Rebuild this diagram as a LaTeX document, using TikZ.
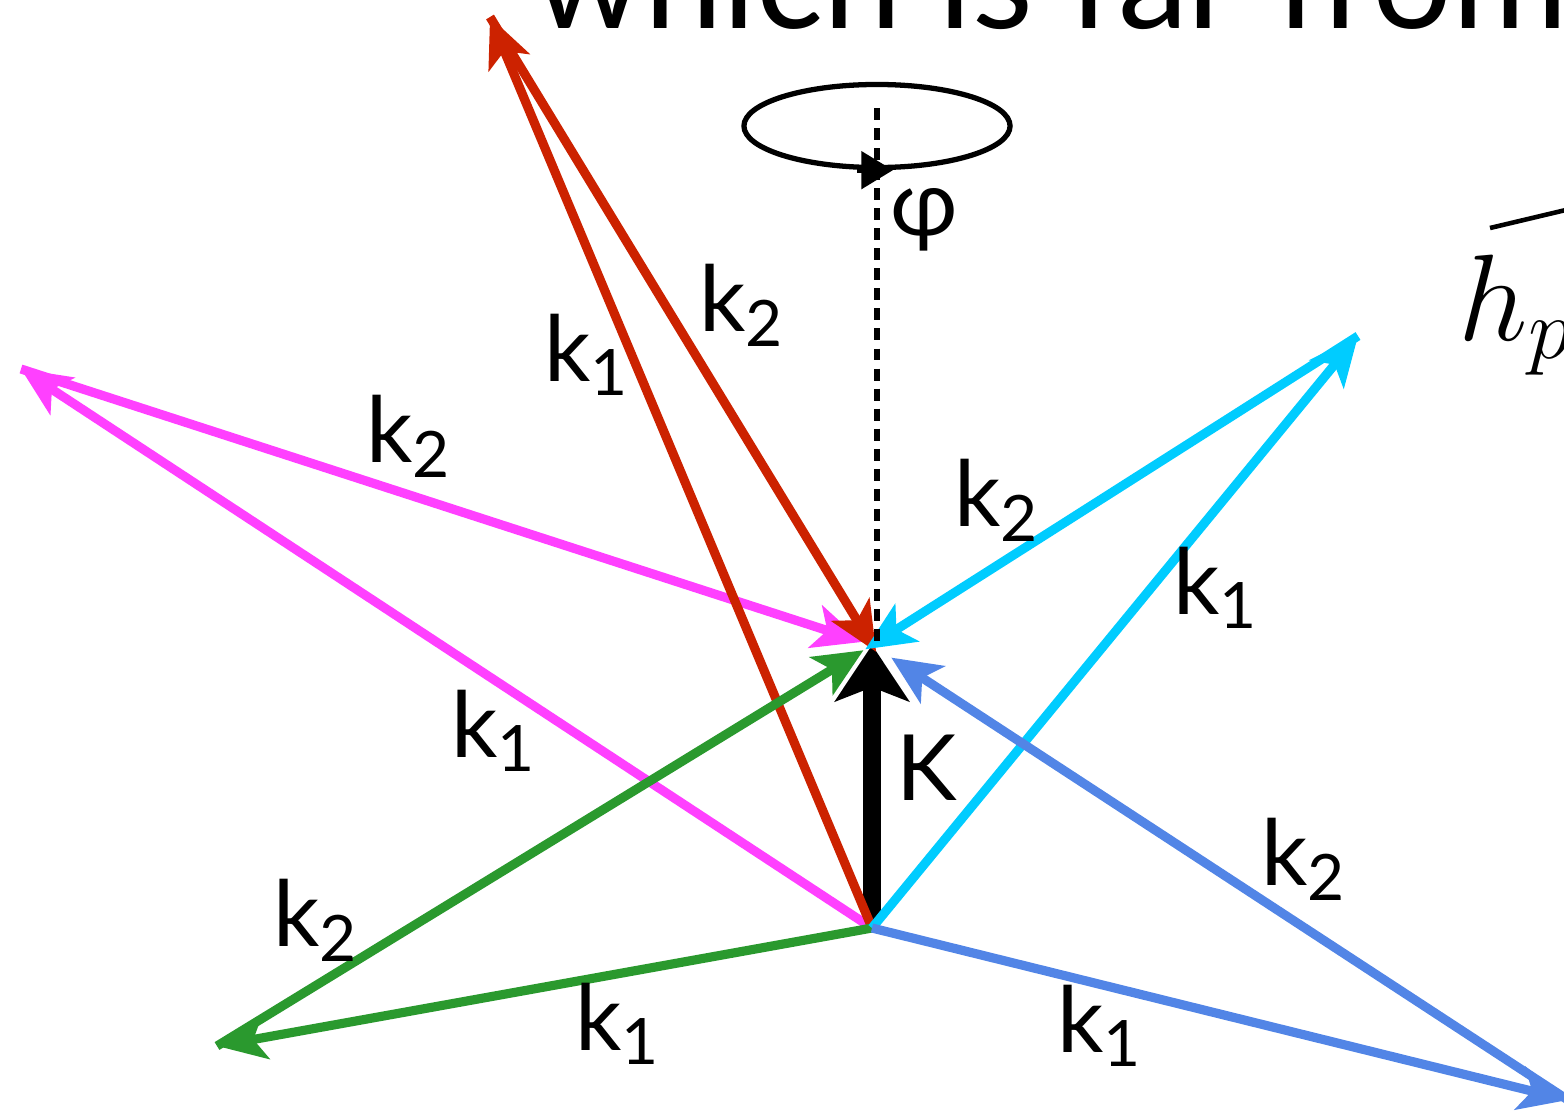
\RequirePackage{fix-cm}
\documentclass[tikz,border=0pt]{standalone}
\usepackage{fontspec}
\setsansfont{Lato}
\definecolor{kred}{RGB}{204,34,0}
\definecolor{kmag}{RGB}{255,64,255}
\definecolor{kcyan}{RGB}{0,204,255}
\definecolor{kgreen}{RGB}{42,153,46}
\definecolor{kblue}{RGB}{82,133,230}
\usepackage{tikz}
\usetikzlibrary{arrows.meta,shapes.geometric,calc}
\newcommand{\klab}[1]{k\textsubscript{#1}}

\begin{document}
\begin{tikzpicture}[x=0.01cm,y=-0.01cm,
  kvec/.style={line width=2.6pt,-{Stealth[length=14pt,width=12.5pt,inset=3.5pt]}},
  bigK/.style={line width=5pt,-{Stealth[length=16pt,width=21pt,inset=4pt]}},
  lab/.style={font=\sffamily\fontsize{26}{30}\selectfont,inner sep=0pt}
]
  \path[use as bounding box] (0,0) rectangle (1564,1112);
  \clip (0,0) rectangle (1564,1112);

  % slide text, cut off by the frame
  \node[anchor=base west,inner sep=0pt,font=\sffamily\fontsize{40}{48}\selectfont] (head) at (533,28) {which is far from};
  \node[anchor=base west,inner sep=0pt,font=\fontsize{35}{40}\selectfont] (hp) at (1458,340) {$h_p$};
  \draw[line width=1.3pt] (1490,228) -- (1570,209);

  % points
  \coordinate (O) at (872,928);
  \coordinate (T) at (872,645);
  \coordinate (Pr) at (490,17);
  \coordinate (Pm) at (21,369);
  \coordinate (Pc) at (1358,336);
  \coordinate (Pg) at (217,1046);
  \coordinate (Pb) at (1568,1100);

  % total momentum
  \draw[bigK,shorten <=1.5pt] (O) -- (T);
  \node[lab] (K) at (927,768) {K};

  % magenta pair
  \draw[kvec,kmag] (O) -- (Pm);
  \draw[kvec,kmag,shorten >=0.1cm] (Pm) -- (T);
  \node[lab] (m1) at (494,731) {\klab{1}};
  \node[lab] (m2) at (409,436) {\klab{2}};

  % red pair
  \draw[kvec,kred] (O) -- (Pr);
  \draw[kvec,kred,shorten >=-0.08cm] (Pr) -- (T);
  \node[lab] (r1) at (587,355) {\klab{1}};
  \node[lab] (r2) at (742,305) {\klab{2}};

  % green pair
  \draw[kvec,kgreen] (O) -- (Pg);
  \draw[kvec,kgreen,shorten >=0.1cm] (Pg) -- (T);
  \node[lab] (g1) at (618,1024) {\klab{1}};
  \node[lab] (g2) at (316,920) {\klab{2}};

  % cyan pair
  \draw[kvec,kcyan] (O) -- (Pc);
  \draw[kvec,kcyan,shorten >=-0.08cm] (Pc) -- (T);
  \node[lab] (c1) at (1216,588) {\klab{1}};
  \node[lab] (c2) at (997,500) {\klab{2}};

  % blue pair
  \draw[kvec,kblue] (O) -- (Pb);
  \draw[kvec,kblue,shorten >=0.23cm] (Pb) -- (T);
  \node[lab] (b1) at (1100,1026) {\klab{1}};
  \node[lab] (b2) at (1304,859) {\klab{2}};

  % rotation about the axis
  \node[draw,ellipse,line width=1.5pt,minimum width=2.66cm,minimum height=0.83cm,inner sep=0pt] (rot) at (877,126) {};
  \draw[line width=1.5pt,-{Triangle[length=9pt,width=10.5pt]}] ([xshift=-0.2cm]rot.south) -- ([xshift=0.16cm]rot.south);
  \draw[line width=1.5pt,dash pattern=on 3.4pt off 2.3pt] ([yshift=0.18cm]rot.center) -- (rot.center |- T);
  \node[lab] (phi) at (924,220) {φ};
\end{tikzpicture}
\end{document}
